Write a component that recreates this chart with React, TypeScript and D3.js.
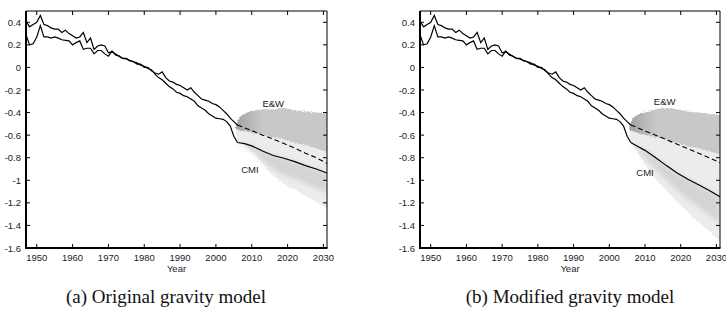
import React from 'react';
import * as d3 from 'd3';

// observed period, one value per year
const histYears = d3.range(1947, 2007);
const histUpper = [
  0.41, 0.36, 0.38, 0.4, 0.46, 0.38, 0.37, 0.35, 0.34, 0.34,
  0.31, 0.33, 0.3, 0.28, 0.26, 0.27, 0.31, 0.22, 0.26, 0.16,
  0.19, 0.2, 0.19, 0.13, 0.14, 0.12, 0.1, 0.08, 0.08, 0.06,
  0.05, 0.03, 0.03, 0.0, 0.0, -0.03, -0.05, -0.06, -0.04, -0.09,
  -0.12, -0.13, -0.15, -0.16, -0.18, -0.2, -0.18, -0.22, -0.25, -0.28,
  -0.29, -0.3, -0.32, -0.33, -0.35, -0.38, -0.41, -0.45, -0.48, -0.51,
];
const histLower = [
  0.29, 0.2, 0.21, 0.27, 0.37, 0.27, 0.27, 0.26, 0.27, 0.26,
  0.245, 0.24, 0.235, 0.2, 0.22, 0.235, 0.16, 0.17, 0.17, 0.12,
  0.15, 0.15, 0.12, 0.1, 0.145, 0.11, 0.1, 0.08, 0.075, 0.06,
  0.05, 0.04, 0.02, 0.01, -0.01, -0.02, -0.06, -0.09, -0.11, -0.14,
  -0.17, -0.19, -0.22, -0.23, -0.25, -0.26, -0.28, -0.3, -0.34, -0.36,
  -0.38, -0.41, -0.43, -0.45, -0.455, -0.46, -0.48, -0.52, -0.61, -0.665,
];

// projections (central lines and inner band of the CMI fan)
const projYears = [2006, 2008, 2010, 2013, 2016, 2019, 2022, 2025, 2028, 2031];
const ewOriginal = [-0.51, -0.535, -0.56, -0.6, -0.635, -0.675, -0.715, -0.76, -0.8, -0.85];
const cmiOriginal = [-0.665, -0.675, -0.695, -0.74, -0.78, -0.805, -0.835, -0.87, -0.9, -0.935];
const cmiBandOriginal = [-0.67, -0.7, -0.74, -0.82, -0.9, -0.95, -0.99, -1.03, -1.07, -1.11];
const ewModified = [-0.51, -0.535, -0.565, -0.6, -0.64, -0.68, -0.72, -0.76, -0.8, -0.845];
const cmiModified = [-0.665, -0.7, -0.735, -0.8, -0.87, -0.935, -0.99, -1.04, -1.09, -1.145];
const cmiBandModified = [-0.67, -0.73, -0.8, -0.9, -1.0, -1.09, -1.17, -1.24, -1.31, -1.38];

// fan envelopes
const fanYears = [2005.6, 2006.5, 2008, 2010, 2013, 2016, 2019, 2022, 2025, 2028, 2031];
const ewTopOriginal = [-0.52, -0.45, -0.41, -0.39, -0.37, -0.37, -0.36, -0.38, -0.39, -0.4, -0.41];
const splitOriginal = [-0.55, -0.56, -0.565, -0.58, -0.6, -0.62, -0.64, -0.67, -0.69, -0.72, -0.75];
const cmiLowOriginal = [-0.62, -0.67, -0.69, -0.74, -0.85, -0.96, -1.03, -1.08, -1.14, -1.19, -1.25];
const ewTopModified = [-0.52, -0.46, -0.42, -0.4, -0.37, -0.36, -0.37, -0.39, -0.4, -0.41, -0.42];
const splitModified = [-0.55, -0.565, -0.58, -0.6, -0.62, -0.645, -0.67, -0.7, -0.72, -0.745, -0.77];
const cmiLowModified = [-0.62, -0.69, -0.76, -0.86, -0.99, -1.09, -1.19, -1.28, -1.37, -1.45, -1.54];

const xTicks = [1950, 1960, 1970, 1980, 1990, 2000, 2010, 2020, 2030];
const yTicks = [0.4, 0.2, 0, -0.2, -0.4, -0.6, -0.8, -1, -1.2, -1.4, -1.6];

const tickFont = '"Liberation Sans", Arial, sans-serif';

type PanelProps = {
  id: string;
  left: number;
  right: number;
  ew: number[];
  cmi: number[];
  cmiBand: number[];
  ewTop: number[];
  split: number[];
  cmiLow: number[];
  ewAt: [number, number];
  cmiAt: [number, number];
  caption: string;
  captionX: number;
};

const Panel = (p: PanelProps) => {
  const top = 11;
  const bottom = 248;
  const x = d3.scaleLinear().domain([1947, 2031]).range([p.left, p.right]);
  const y = d3.scaleLinear().domain([-1.6, 0.5]).range([bottom, top]);

  const line = d3.line<[number, number]>().x((d) => x(d[0])).y((d) => y(d[1]));
  const band = (xs: number[], hi: number[], lo: number[]) =>
    d3
      .area<number>()
      .x((_, i) => x(xs[i]))
      .y0((_, i) => y(lo[i]))
      .y1((_, i) => y(hi[i]))
      .curve(d3.curveMonotoneX)(xs) as string;

  const zip = (xs: number[], vs: number[]) => xs.map((v, i) => [v, vs[i]] as [number, number]);
  const fmt = (v: number) => (v === 0 ? '0' : String(v));

  return (
    <g>
      <defs>
        <linearGradient id={`ewfill-${p.id}`} gradientUnits="userSpaceOnUse" x1={x(2005.6)} x2={x(2013)} y1={0} y2={0}>
          <stop offset="0" stopColor="#a2a2a2" />
          <stop offset="1" stopColor="#c8c8c8" />
        </linearGradient>
        <clipPath id={`clip-${p.id}`}>
          <rect x={p.left} y={top} width={p.right - p.left} height={bottom - top} />
        </clipPath>
      </defs>

      {/* fans */}
      <g clipPath={`url(#clip-${p.id})`}>
        <g filter="url(#grain)">
          <path d={band(fanYears, p.ewTop, p.split)} fill={`url(#ewfill-${p.id})`} />
          <path d={band(fanYears, p.split, p.cmiLow)} fill="#ececec" />
        </g>
        <path d={band(projYears, p.cmi, p.cmiBand)} fill="#d4d4d4" filter="url(#soft)" />
      </g>

      {/* observed lines */}
      <path d={line(zip(histYears, histUpper)) as string} fill="none" stroke="#000" strokeWidth={1.2} />
      <path d={line(zip(histYears, histLower)) as string} fill="none" stroke="#000" strokeWidth={1.2} />
      {/* projected lines */}
      <path d={line(zip(projYears, p.ew)) as string} fill="none" stroke="#000" strokeWidth={1.1} strokeDasharray="5,3" />
      <path d={line(zip(projYears, p.cmi)) as string} fill="none" stroke="#000" strokeWidth={1.2} />

      <text x={x(p.ewAt[0])} y={y(p.ewAt[1])} textAnchor="middle" dominantBaseline="central" fontFamily={tickFont} fontSize={9.5} fill="#222">E&amp;W</text>
      <text x={x(p.cmiAt[0])} y={y(p.cmiAt[1])} textAnchor="middle" dominantBaseline="central" fontFamily={tickFont} fontSize={9.5} fill="#222">CMI</text>

      {/* box with inward ticks */}
      <line x1={p.left} x2={p.right} y1={top} y2={top} stroke="#000" strokeWidth={1} />
      <line x1={p.right} x2={p.right} y1={top} y2={bottom} stroke="#000" strokeWidth={1} />
      <line x1={p.left} x2={p.right + 0.5} y1={bottom} y2={bottom} stroke="#000" strokeWidth={2} />
      <line x1={p.left} x2={p.left} y1={top} y2={bottom + 1} stroke="#000" strokeWidth={2} />
      {xTicks.map((t) => (
        <g key={`x${t}`}>
          <line x1={x(t)} x2={x(t)} y1={bottom} y2={bottom - 4} stroke="#000" />
          <line x1={x(t)} x2={x(t)} y1={top} y2={top + 4} stroke="#000" />
          <text x={x(t)} y={261} textAnchor="middle" fontFamily={tickFont} fontSize={9.5} fill="#222">{t}</text>
        </g>
      ))}
      {yTicks.map((t) => (
        <g key={`y${t}`}>
          <line x1={p.left} x2={p.left + 4} y1={y(t)} y2={y(t)} stroke="#000" />
          <line x1={p.right} x2={p.right - 4} y1={y(t)} y2={y(t)} stroke="#000" />
          <text x={p.left - 5} y={y(t)} textAnchor="end" dominantBaseline="central" fontFamily={tickFont} fontSize={9.5} fill="#222">{fmt(t)}</text>
        </g>
      ))}
      <text x={(p.left + p.right) / 2} y={272} textAnchor="middle" fontFamily={tickFont} fontSize={9.5} fill="#222">Year</text>

      <text x={p.captionX} y={303} textAnchor="middle" fontFamily='"Liberation Serif", "Times New Roman", serif' fontSize={19} fill="#111">{p.caption}</text>
    </g>
  );
};

export default function App() {
  return (
    <svg width={726} height={314} style={{ position: 'absolute', left: 0, top: 0, background: '#fff' }}>
      <defs>
        <filter id="grain" x="-5%" y="-5%" width="110%" height="110%">
          <feTurbulence type="fractalNoise" baseFrequency="0.7" numOctaves={2} seed={3} result="n" />
          <feDisplacementMap in="SourceGraphic" in2="n" scale={3} xChannelSelector="R" yChannelSelector="G" />
        </filter>
        <filter id="soft" x="-10%" y="-10%" width="120%" height="120%">
          <feGaussianBlur stdDeviation={2.5} />
        </filter>
      </defs>
      <rect width={726} height={314} fill="#fff" />
      <Panel
        id="a"
        left={26}
        right={327}
        ew={ewOriginal}
        cmi={cmiOriginal}
        cmiBand={cmiBandOriginal}
        ewTop={ewTopOriginal}
        split={splitOriginal}
        cmiLow={cmiLowOriginal}
        ewAt={[2016, -0.32]}
        cmiAt={[2009.5, -0.9]}
        caption="(a) Original gravity model"
        captionX={166}
      />
      <Panel
        id="b"
        left={420}
        right={720}
        ew={ewModified}
        cmi={cmiModified}
        cmiBand={cmiBandModified}
        ewTop={ewTopModified}
        split={splitModified}
        cmiLow={cmiLowModified}
        ewAt={[2015.5, -0.3]}
        cmiAt={[2010, -0.93]}
        caption="(b) Modified gravity model"
        captionX={570}
      />
    </svg>
  );
}
